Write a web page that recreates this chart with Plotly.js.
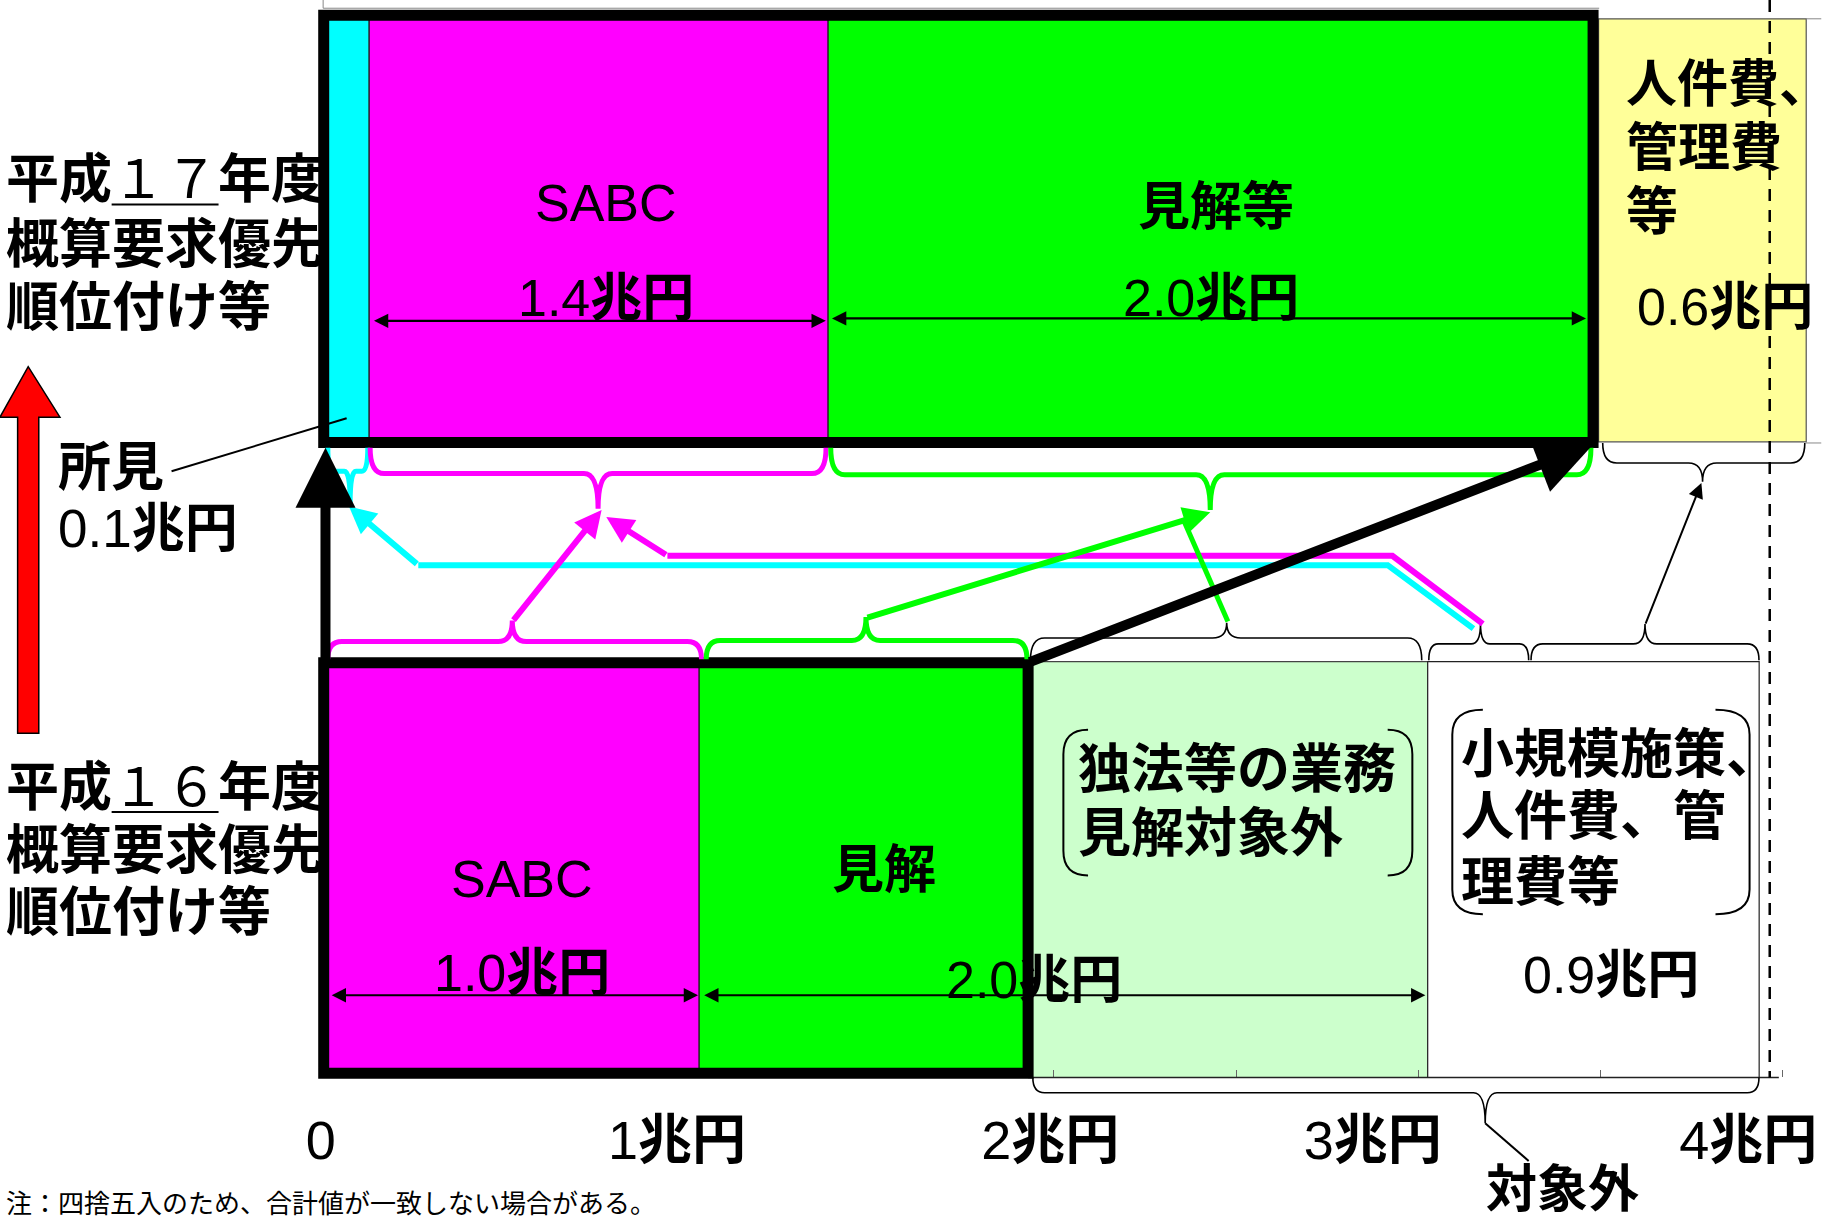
<!DOCTYPE html>
<html><head><meta charset="utf-8">
<script src="https://cdn.plot.ly/plotly-3.0.1.min.js"></script>
<style>html,body{margin:0;padding:0;background:#fff}</style>
</head><body><div id="chart" style="width:1833px;height:1219px"></div>
<script>
// ---------------- data ----------------
const topCategories = ['所見', 'SABC', '見解等', '人件費、管理費等'];
const topValueLabels = ['0.1兆円', '1.4兆円', '2.0兆円', '0.6兆円'];
const topDrawnWidths = [0.12, 1.26, 2.10, 0.57];          // widths as drawn, 兆円 scale
const bottomCategories = ['SABC', '見解', '独法等の業務見解対象外', '小規模施策、人件費、管理費等'];
const bottomValueLabels = ['1.0兆円', '2.0兆円', '0.9兆円'];
const bottomDrawnWidths = [1.026, 0.903, 1.097, 0.91];     // widths as drawn, 兆円 scale
const axisTickValues = [0.5, 1, 1.5, 2, 2.5, 3, 3.5, 4];
const axisLabelValues = [-0.013, 0.965, 1.99, 2.875, 3.906];
const axisLabelTexts = ['0', '1兆円', '2兆円', '3兆円', '4兆円'];
const topRowTitle = ['平成１７年度', '概算要求優先', '順位付け等'];
const bottomRowTitle = ['平成１６年度', '概算要求優先', '順位付け等'];

// ---------------- helpers ----------------
const FONT = 'Liberation Sans, Arial, "Noto Sans CJK JP", sans-serif';
const PXU = 310, X0 = 277;                 // drawing px per 兆円, origin
const ux = d => (d - X0) / PXU;            // drawing px -> 兆円 units
function bases(w) { const b = []; let s = 0; w.forEach(v => { b.push(s); s += v; }); return b; }
const topBase = bases(topDrawnWidths);
const botBase = bases(bottomDrawnWidths);
const borderGap = 4.7 / PXU;
topBase[3] = topBase[2] + topDrawnWidths[2] + borderGap;
const topEnd = i => topBase[i] + topDrawnWidths[i];
const botEnd = i => botBase[i] + bottomDrawnWidths[i];
// heavier CJK glyphs like the reference (ideographs / kana only)
const B = s => s.replace(/([\u3000-\u9FFF]+)/g, '<b>$1</b>');

const colors = {cyan: '#00FFFF', mag: '#FF00FF', green: '#00FF00', lg: '#CCFFCC', yel: '#FFFF99', red: '#FF0000'};

// ---------------- traces ----------------
const traces = [
  {
    type: 'bar', orientation: 'h', name: 'H17',
    y: [194.75, 194.75, 194.75, 196], width: [363.5, 363.5, 363.5, 360],
    base: topBase, x: topDrawnWidths, text: topCategories, textposition: 'none',
    marker: {color: [colors.cyan, colors.mag, colors.green, colors.yel],
             line: {color: ['#222', '#222', '#222', '#555'], width: 1.2}},
    hoverinfo: 'skip', showlegend: false
  },
  {
    type: 'bar', orientation: 'h', name: 'H16',
    y: [738.75, 738.75, 740, 740], width: [349.5, 349.5, 354, 354],
    base: botBase, x: bottomDrawnWidths, text: bottomCategories, textposition: 'none',
    marker: {color: [colors.mag, colors.green, colors.lg, '#FFFFFF'],
             line: {color: ['#222', '#222', '#444', '#222'], width: 1.2}},
    hoverinfo: 'skip', showlegend: false
  },
  {type: 'scatter', x: [0], y: [0], xaxis: 'x2', yaxis: 'y', mode: 'markers',
   marker: {opacity: 0}, hoverinfo: 'skip', showlegend: false}
];

// ---------------- shapes ----------------
const shapes = [];
function P(x, y) { return ux(x) + ',' + y; }
function pathShape(d, color, w, fill, dash) {
  shapes.push({type: 'path', xref: 'x', yref: 'y', path: d,
    line: {color: color, width: w, dash: dash || 'solid'}, fillcolor: fill || 'rgba(0,0,0,0)'});
}
function lineShape(x0, y0, x1, y1, color, w, dash) {
  shapes.push({type: 'line', xref: 'x', yref: 'y', x0: ux(x0), y0: y0, x1: ux(x1), y1: y1,
    line: {color: color, width: w, dash: dash || 'solid'}});
}
function brace(x1, x2, xm, yb, ym, yt, r, color, w) {
  const d = 'M' + P(x1, yb) + ' Q' + P(x1, ym) + ' ' + P(x1 + r, ym) + ' L' + P(xm - r, ym) +
    ' Q' + P(xm, ym) + ' ' + P(xm, yt) + ' M' + P(xm, yt) + ' Q' + P(xm, ym) + ' ' + P(xm + r, ym) +
    ' L' + P(x2 - r, ym) + ' Q' + P(x2, ym) + ' ' + P(x2, yb);
  pathShape(d, color, w);
}
function bracket(xOuter, xInner, yt, yb, color, w) {
  const r = 21;
  const d = 'M' + P(xInner, yt) + ' Q' + P(xOuter, yt) + ' ' + P(xOuter, yt + r) + ' L' + P(xOuter, yb - r) +
    ' Q' + P(xOuter, yb) + ' ' + P(xInner, yb);
  pathShape(d, color, w);
}

// thin frame bits
pathShape('M' + P(275, 0) + ' L' + P(275, 7) + ' L' + P(1361, 7), '#888', 1);
lineShape(1537, 16, 1550, 16, '#888', 1);
lineShape(1537, 377, 1550, 377, '#888', 1);
// axis baseline (right part) and dashed vertical
shapes.push({type: 'line', xref: 'x', yref: 'y', x0: botEnd(1), x1: 3.99, y0: 917, y1: 917, line: {color: '#222', width: 1.5}});
shapes.push({type: 'line', xref: 'x', yref: 'y', x0: 3.965, x1: 3.965, y0: 0, y1: 917, line: {color: '#000', width: 2.5, dash: '12px,9px'}});

// thick outline boxes
shapes.push({type: 'rect', xref: 'x', yref: 'y', x0: -1.5 / PXU, x1: topEnd(2), y0: 13, y1: 376.5, line: {color: '#000', width: 11}});
shapes.push({type: 'rect', xref: 'x', yref: 'y', x0: -1.5 / PXU, x1: botEnd(1), y0: 564, y1: 913.5, line: {color: '#000', width: 11}});

// braces top row (pointing down)
brace(279, 313, 298, 381, 401, 428, 5, colors.cyan, 5);
brace(315, 703, 509, 381, 403, 433, 12, colors.mag, 5);
brace(707, 1354, 1030, 381, 404, 434, 12, colors.green, 5);
brace(1364, 1536, 1449, 377, 394, 410, 12, '#000', 1.6);
// braces bottom row (pointing up)
brace(279, 597, 436, 561, 546, 528, 12, colors.mag, 5);
brace(601, 874, 737, 561, 545, 525, 12, colors.green, 5);
brace(877, 1210, 1044, 562, 543, 530, 12, '#000', 1.6);
brace(1216, 1301, 1260, 562, 548, 531, 8, '#000', 1.6);
brace(1303, 1497, 1400, 562, 548, 531, 10, '#000', 1.6);
// brace below (対象外)
brace(879, 1497, 1264, 917, 930, 956, 10, '#000', 1.6);
lineShape(1264, 956, 1301, 988, '#000', 2);

// text brackets
bracket(905, 926, 621, 745, '#000', 2);
bracket(1202, 1181, 621, 745, '#000', 2);
bracket(1236, 1262, 604, 778, '#000', 2);
bracket(1489, 1460, 604, 778, '#000', 2);

// colored polylines (heads drawn with annotations)
pathShape('M' + P(1254, 535) + ' L' + P(1181, 481) + ' L' + P(356, 481), colors.cyan, 6);
pathShape('M' + P(1262, 531) + ' L' + P(1185, 473) + ' L' + P(568, 473), colors.mag, 6);
lineShape(1045, 529, 1007, 442, colors.green, 5);

// leader for 所見
lineShape(146, 401, 295, 356, '#000', 2);

// underlines
lineShape(95, 174, 186, 174, '#000', 2);
lineShape(95, 691, 186, 691, '#000', 2);

// red arrow
pathShape('M' + P(15, 624) + ' L' + P(15, 355) + ' L' + P(0, 355) + ' L' + P(24, 312) + ' L' + P(51, 355) +
  ' L' + P(33, 355) + ' L' + P(33, 624) + ' Z', '#000', 1.5, colors.red);

// ---------------- annotations ----------------
const ann = [];
function txt(s, x, y, size, anchor, plain) {
  ann.push({text: plain ? s : B(s), x: ux(x), y: y, xref: 'x', yref: 'y', showarrow: false,
    xanchor: anchor || 'center', yanchor: 'middle', font: {family: FONT, size: size, color: '#000'}});
}
function arrow(x0, y0, x1, y1, color, w, size, head, both) {
  const a = {text: '', x: ux(x1), y: y1, ax: ux(x0), ay: y0, xref: 'x', yref: 'y', axref: 'x', ayref: 'y',
    showarrow: true, arrowhead: head, arrowsize: size, arrowwidth: w, arrowcolor: color, standoff: 0, startstandoff: 0};
  if (both) { a.arrowside = 'end+start'; a.startarrowhead = head; a.startarrowsize = size; }
  ann.push(a);
}

// dimension arrows
arrow(317, 273, topEnd(1) * PXU + X0 - 2, 273, '#000', 2.2, 1.3, 2, true);
arrow(topBase[2] * PXU + X0 + 2, 271, topEnd(2) * PXU + X0 - 6, 271, '#000', 2.2, 1.3, 2, true);
arrow(281, 847, botEnd(0) * PXU + X0 - 1, 847, '#000', 2.2, 1.3, 2, true);
arrow(botBase[1] * PXU + X0 + 3, 847, botEnd(2) * PXU + X0 - 2, 847, '#000', 2.2, 1.3, 2, true);

// colored arrows
arrow(356, 481, 297, 431, colors.cyan, 6, 0.9, 2);
arrow(568, 473, 516, 440, colors.mag, 6, 0.9, 2);
arrow(436, 529, 512, 434, colors.mag, 6, 0.9, 2);
arrow(737, 526, 1030, 436, colors.green, 6, 0.9, 2);
// black arrows
arrow(875, 564, 1356, 378, '#000', 10, 1.15, 2);
arrow(277, 564, 277, 381, '#000', 10, 1.2, 2);
arrow(1400, 532, 1448, 411, '#000', 2, 1.5, 2);

// texts in bars
const bigF = 52;
txt(topCategories[1], 516, 173, bigF);
txt(topValueLabels[1], 516, 254, bigF);
txt(topCategories[2], 1035, 176, bigF);
txt(topValueLabels[2], 1031, 254, bigF);
txt('人件費、', 1382, 72, 51, 'left');
txt('管理費', 1382, 126, 52, 'left');
txt('等', 1382, 180, 52, 'left');
txt(topValueLabels[3], 1468, 261, bigF);

txt(bottomCategories[0], 444, 748, bigF);
txt(bottomValueLabels[0], 444, 828, bigF);
txt(bottomCategories[1], 752, 740, bigF);
txt(bottomValueLabels[1], 880, 834, bigF);
txt('独法等の業務', 916, 655, 53, 'left');
txt('見解対象外', 916, 709, 53, 'left');
txt('小規模施策、', 1242, 642, 53, 'left');
txt('人件費、管', 1242, 695, 53, 'left');
txt('理費等', 1242, 751, 53, 'left');
txt(bottomValueLabels[2], 1371, 830, bigF);

// left titles
[153, 208, 262].forEach((y, i) => txt(topRowTitle[i], 3, y, 53, 'left'));
[670, 724, 777].forEach((y, i) => txt(bottomRowTitle[i], 3, y, 53, 'left'));
txt(topCategories[0], 48, 398, 53, 'left');
txt(topValueLabels[0], 48, 450, 53, 'left');

txt('対象外', 1330, 1012, 51);
txt('注：四捨五入のため、合計値が一致しない場合がある。', 3, 1025, 26, 'left', true);

// ---------------- layout ----------------
const layout = {
  width: 1833, height: 1219,
  margin: {l: 0, r: 0, t: 0, b: 0, pad: 0},
  paper_bgcolor: '#fff', plot_bgcolor: '#fff',
  barmode: 'overlay', showlegend: false,
  xaxis: {range: [ux(0), ux(1560)], anchor: 'free', position: 1 - 917 / 1037.45,
    showgrid: false, zeroline: false, showline: false, ticks: 'inside', ticklen: 7, tickwidth: 1,
    tickcolor: '#666', tickmode: 'array', tickvals: axisTickValues, showticklabels: false,
    layer: 'above traces', fixedrange: true},
  xaxis2: {range: [ux(0), ux(1560)], overlaying: 'x', anchor: 'free', position: 0.094,
    showgrid: false, zeroline: false, showline: false, ticks: '', tickmode: 'array',
    tickvals: axisLabelValues, ticktext: axisLabelTexts.map(B), fixedrange: true,
    tickfont: {family: FONT, size: 54, color: '#000'}},
  yaxis: {range: [1219 / 1.175, 0], visible: false, showgrid: false, zeroline: false, fixedrange: true},
  shapes: shapes,
  annotations: ann
};

Plotly.newPlot('chart', traces, layout, {displayModeBar: false, staticPlot: true});
</script>
</body></html>
